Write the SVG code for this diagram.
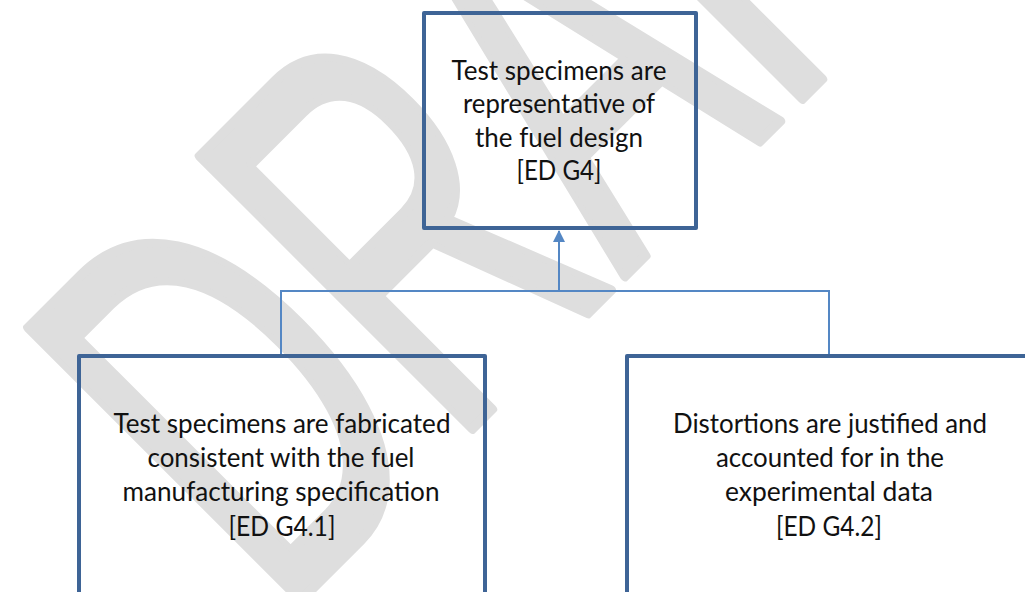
<svg xmlns="http://www.w3.org/2000/svg" width="1025" height="592" viewBox="0 0 1025 592">
  <style>
    .box { fill: none; stroke: #3e6496; stroke-width: 4; stroke-linejoin: round; }
    .lbl { font-family: Lato, "Open Sans", "Liberation Sans", sans-serif; font-size: 26px; fill: #111111; text-anchor: middle; }
    .wire { fill: none; stroke: #5487c4; stroke-width: 2; }
    .mark { font-family: "Liberation Sans", Arial, sans-serif; font-size: 560px; fill: #dedede; stroke: #dedede; stroke-width: 10; stroke-linejoin: round; }
  </style>
  <defs>
    <marker id="arrowUp" viewBox="0 0 12 12" refX="11" refY="6" markerWidth="12" markerHeight="12" markerUnits="userSpaceOnUse" orient="auto">
      <path d="M0,0 L12,6 L0,12 z" fill="#5487c4"/>
    </marker>
  </defs>

  <rect width="1025" height="592" fill="#ffffff"/>

  <!-- background watermark -->
  <text class="mark" transform="translate(280,621) rotate(-45) scale(0.6,1)">DRAFT</text>

  <!-- connectors -->
  <g id="connectors">
    <polyline class="wire" points="281,354 281,291 829,291 829,354"/>
    <line class="wire" x1="559" y1="291" x2="559" y2="231" marker-end="url(#arrowUp)"/>
  </g>

  <!-- goal: ED G4 -->
  <g id="node-g4">
    <rect class="box" x="424" y="13" width="272" height="215"/>
    <text class="lbl" x="559" y="80" textLength="215" lengthAdjust="spacingAndGlyphs">Test specimens are</text>
    <text class="lbl" x="559" y="113" textLength="192" lengthAdjust="spacingAndGlyphs">representative of</text>
    <text class="lbl" x="559" y="147" textLength="168" lengthAdjust="spacingAndGlyphs">the fuel design</text>
    <text class="lbl" x="559" y="180" textLength="85" lengthAdjust="spacingAndGlyphs">[ED G4]</text>
  </g>

  <!-- sub-goal: ED G4.1 -->
  <g id="node-g41">
    <rect class="box" x="79" y="356" width="406" height="260"/>
    <text class="lbl" x="282" y="433" textLength="337" lengthAdjust="spacingAndGlyphs">Test specimens are fabricated</text>
    <text class="lbl" x="281" y="467" textLength="267" lengthAdjust="spacingAndGlyphs">consistent with the fuel</text>
    <text class="lbl" x="281" y="501" textLength="317" lengthAdjust="spacingAndGlyphs">manufacturing specification</text>
    <text class="lbl" x="282" y="536" textLength="107" lengthAdjust="spacingAndGlyphs">[ED G4.1]</text>
  </g>

  <!-- sub-goal: ED G4.2 -->
  <g id="node-g42">
    <rect class="box" x="627" y="356" width="420" height="260"/>
    <text class="lbl" x="830" y="433" textLength="314" lengthAdjust="spacingAndGlyphs">Distortions are justified and</text>
    <text class="lbl" x="830" y="467" textLength="228" lengthAdjust="spacingAndGlyphs">accounted for in the</text>
    <text class="lbl" x="829" y="501" textLength="208" lengthAdjust="spacingAndGlyphs">experimental data</text>
    <text class="lbl" x="829" y="536" textLength="106" lengthAdjust="spacingAndGlyphs">[ED G4.2]</text>
  </g>
</svg>
